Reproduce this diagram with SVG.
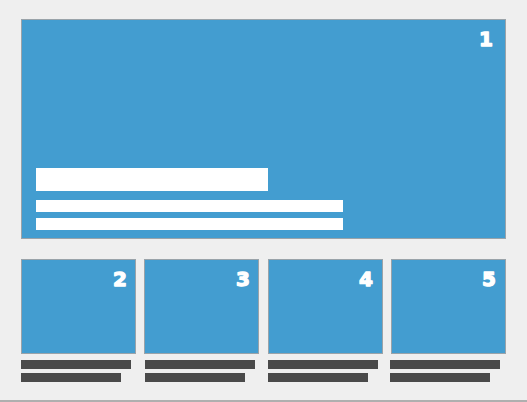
<svg xmlns="http://www.w3.org/2000/svg" width="527" height="402" viewBox="0 0 527 402">
<style>
.box{fill:#439dd0;stroke:#9aa3a9;stroke-width:1}
.wbar{fill:#ffffff}
.dbar{fill:#4a4a4a}
.num{fill:#ffffff;stroke:#ffffff;stroke-width:1.3;stroke-linejoin:round;font-family:"DejaVu Sans","Liberation Sans",sans-serif;font-weight:bold;font-size:20px;text-anchor:end}
</style>
<rect x="0" y="0" width="527" height="402" fill="#efefef"/>
<line x1="0" y1="401" x2="527" y2="401" stroke="#9a9a9a" stroke-width="1.5"/>
<g id="node1">
<rect class="box" x="21.5" y="19.5" width="484" height="219"/>
<rect class="wbar" x="36" y="168" width="232" height="23"/>
<rect class="wbar" x="36" y="200" width="307" height="12"/>
<rect class="wbar" x="36" y="218" width="307" height="12"/>
<text class="num" x="493" y="46">1</text>
</g>
<g id="node2">
<rect class="box" x="21.5" y="259.5" width="114" height="94"/>
<text class="num" x="127" y="286">2</text>
<rect class="dbar" x="21" y="360" width="110" height="9"/>
<rect class="dbar" x="21" y="373" width="100" height="9"/>
</g>
<g id="node3">
<rect class="box" x="144.5" y="259.5" width="114" height="94"/>
<text class="num" x="250" y="286">3</text>
<rect class="dbar" x="145" y="360" width="110" height="9"/>
<rect class="dbar" x="145" y="373" width="100" height="9"/>
</g>
<g id="node4">
<rect class="box" x="268.5" y="259.5" width="114" height="94"/>
<text class="num" x="373" y="286">4</text>
<rect class="dbar" x="268" y="360" width="110" height="9"/>
<rect class="dbar" x="268" y="373" width="100" height="9"/>
</g>
<g id="node5">
<rect class="box" x="391.5" y="259.5" width="114" height="94"/>
<text class="num" x="496" y="286">5</text>
<rect class="dbar" x="390" y="360" width="110" height="9"/>
<rect class="dbar" x="390" y="373" width="100" height="9"/>
</g>
<g id="connectors"></g>
</svg>
